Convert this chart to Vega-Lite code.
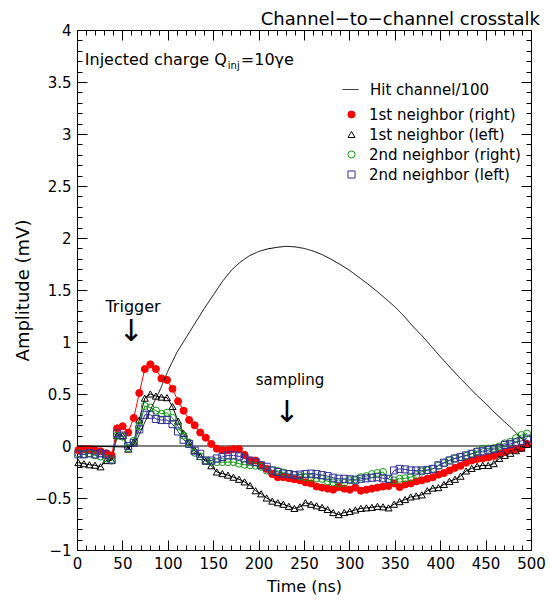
{
 "$schema": "https://vega.github.io/schema/vega-lite/v6.json",
 "width": 454, "height": 520,
 "autosize": {"type": "none"},
 "padding": {"left": 77, "top": 30, "right": 19, "bottom": 51},
 "background": "white",
 "config": {
  "font": "DejaVu Sans",
  "view": {"stroke": "black", "strokeWidth": 1},
  "axis": {"grid": false, "domain": false, "ticks": false, "gridColor": "black", "gridOpacity": 1, "gridWidth": 1, "labelColor": "black", "titleColor": "black", "labelFont": "DejaVu Sans", "titleFont": "DejaVu Sans", "labelFontSize": 15, "titleFontWeight": "normal", "labelOverlap": false, "labelBound": false, "labelFlush": false},
  "legend": {"labelFont": "DejaVu Sans", "labelFontSize": 15, "labelColor": "black", "padding": 0}
 },
 "title": {"text": "Channel−to−channel crosstalk", "anchor": "end", "frame": "group", "fontSize": 18, "fontWeight": "normal", "font": "DejaVu Sans", "color": "black", "offset": -6, "dx": 9},
 "datasets": {
  "nb": [
{"s":"1st neighbor (right)","t":1.5,"v":-0.04},{"s":"1st neighbor (right)","t":7.6,"v":-0.03},{"s":"1st neighbor (right)","t":13.7,"v":-0.03},{"s":"1st neighbor (right)","t":19.8,"v":-0.04},{"s":"1st neighbor (right)","t":25.9,"v":-0.05},{"s":"1st neighbor (right)","t":32,"v":-0.07},{"s":"1st neighbor (right)","t":38.1,"v":-0.09},{"s":"1st neighbor (right)","t":44.2,"v":0.17},{"s":"1st neighbor (right)","t":50.3,"v":0.19},{"s":"1st neighbor (right)","t":56.4,"v":0.13},
{"s":"1st neighbor (right)","t":62.5,"v":0.27},{"s":"1st neighbor (right)","t":68.6,"v":0.51},{"s":"1st neighbor (right)","t":74.7,"v":0.74},{"s":"1st neighbor (right)","t":80.8,"v":0.785},{"s":"1st neighbor (right)","t":86.9,"v":0.74},{"s":"1st neighbor (right)","t":93,"v":0.65},{"s":"1st neighbor (right)","t":99.1,"v":0.635},{"s":"1st neighbor (right)","t":105.2,"v":0.55},{"s":"1st neighbor (right)","t":111.3,"v":0.43},{"s":"1st neighbor (right)","t":117.4,"v":0.34},
{"s":"1st neighbor (right)","t":123.5,"v":0.25},{"s":"1st neighbor (right)","t":129.6,"v":0.2},{"s":"1st neighbor (right)","t":135.7,"v":0.13},{"s":"1st neighbor (right)","t":141.8,"v":0.08},{"s":"1st neighbor (right)","t":147.9,"v":0.02},{"s":"1st neighbor (right)","t":154,"v":-0.026},{"s":"1st neighbor (right)","t":160.1,"v":-0.04},{"s":"1st neighbor (right)","t":166.2,"v":-0.04},{"s":"1st neighbor (right)","t":172.3,"v":-0.03},{"s":"1st neighbor (right)","t":178.4,"v":-0.03},
{"s":"1st neighbor (right)","t":184.5,"v":-0.085},{"s":"1st neighbor (right)","t":190.6,"v":-0.14},{"s":"1st neighbor (right)","t":196.7,"v":-0.14},{"s":"1st neighbor (right)","t":202.8,"v":-0.185},{"s":"1st neighbor (right)","t":208.9,"v":-0.22},{"s":"1st neighbor (right)","t":215,"v":-0.27},{"s":"1st neighbor (right)","t":221.1,"v":-0.3},{"s":"1st neighbor (right)","t":227.2,"v":-0.3},{"s":"1st neighbor (right)","t":233.3,"v":-0.31},{"s":"1st neighbor (right)","t":239.4,"v":-0.32},
{"s":"1st neighbor (right)","t":245.5,"v":-0.33},{"s":"1st neighbor (right)","t":251.6,"v":-0.35},{"s":"1st neighbor (right)","t":257.7,"v":-0.36},{"s":"1st neighbor (right)","t":263.8,"v":-0.39},{"s":"1st neighbor (right)","t":269.9,"v":-0.4},{"s":"1st neighbor (right)","t":276,"v":-0.41},{"s":"1st neighbor (right)","t":282.1,"v":-0.42},{"s":"1st neighbor (right)","t":288.2,"v":-0.395},{"s":"1st neighbor (right)","t":294.3,"v":-0.41},{"s":"1st neighbor (right)","t":300.4,"v":-0.42},
{"s":"1st neighbor (right)","t":306.5,"v":-0.4},{"s":"1st neighbor (right)","t":312.6,"v":-0.43},{"s":"1st neighbor (right)","t":318.7,"v":-0.42},{"s":"1st neighbor (right)","t":324.8,"v":-0.41},{"s":"1st neighbor (right)","t":330.9,"v":-0.4},{"s":"1st neighbor (right)","t":337,"v":-0.39},{"s":"1st neighbor (right)","t":343.1,"v":-0.385},{"s":"1st neighbor (right)","t":349.2,"v":-0.36},{"s":"1st neighbor (right)","t":355.3,"v":-0.395},{"s":"1st neighbor (right)","t":361.4,"v":-0.37},
{"s":"1st neighbor (right)","t":367.5,"v":-0.36},{"s":"1st neighbor (right)","t":373.6,"v":-0.34},{"s":"1st neighbor (right)","t":379.7,"v":-0.33},{"s":"1st neighbor (right)","t":385.8,"v":-0.315},{"s":"1st neighbor (right)","t":391.9,"v":-0.3},{"s":"1st neighbor (right)","t":398,"v":-0.275},{"s":"1st neighbor (right)","t":404.1,"v":-0.26},{"s":"1st neighbor (right)","t":410.2,"v":-0.235},{"s":"1st neighbor (right)","t":416.3,"v":-0.21},{"s":"1st neighbor (right)","t":422.4,"v":-0.19},
{"s":"1st neighbor (right)","t":428.5,"v":-0.16},{"s":"1st neighbor (right)","t":434.6,"v":-0.14},{"s":"1st neighbor (right)","t":440.7,"v":-0.125},{"s":"1st neighbor (right)","t":446.8,"v":-0.12},{"s":"1st neighbor (right)","t":452.9,"v":-0.11},{"s":"1st neighbor (right)","t":459,"v":-0.095},{"s":"1st neighbor (right)","t":465.1,"v":-0.075},{"s":"1st neighbor (right)","t":471.2,"v":-0.055},{"s":"1st neighbor (right)","t":477.3,"v":-0.04},{"s":"1st neighbor (right)","t":483.4,"v":-0.03},
{"s":"1st neighbor (right)","t":489.5,"v":-0.02},{"s":"1st neighbor (right)","t":495.6,"v":0.02},
{"s":"1st neighbor (left)","t":1.5,"v":-0.16},{"s":"1st neighbor (left)","t":7.6,"v":-0.17},{"s":"1st neighbor (left)","t":13.7,"v":-0.18},{"s":"1st neighbor (left)","t":19.8,"v":-0.185},{"s":"1st neighbor (left)","t":25.9,"v":-0.2},{"s":"1st neighbor (left)","t":32,"v":-0.14},{"s":"1st neighbor (left)","t":38.1,"v":-0.14},{"s":"1st neighbor (left)","t":44.2,"v":0.1},{"s":"1st neighbor (left)","t":50.3,"v":0.1},{"s":"1st neighbor (left)","t":56.4,"v":-0.03},
{"s":"1st neighbor (left)","t":62.5,"v":0.04},{"s":"1st neighbor (left)","t":68.6,"v":0.25},{"s":"1st neighbor (left)","t":74.7,"v":0.46},{"s":"1st neighbor (left)","t":80.8,"v":0.5},{"s":"1st neighbor (left)","t":86.9,"v":0.48},{"s":"1st neighbor (left)","t":93,"v":0.47},{"s":"1st neighbor (left)","t":99.1,"v":0.465},{"s":"1st neighbor (left)","t":105.2,"v":0.38},{"s":"1st neighbor (left)","t":111.3,"v":0.24},{"s":"1st neighbor (left)","t":117.4,"v":0.12},
{"s":"1st neighbor (left)","t":123.5,"v":0.04},{"s":"1st neighbor (left)","t":129.6,"v":-0.04},{"s":"1st neighbor (left)","t":135.7,"v":-0.1},{"s":"1st neighbor (left)","t":141.8,"v":-0.145},{"s":"1st neighbor (left)","t":147.9,"v":-0.19},{"s":"1st neighbor (left)","t":154,"v":-0.25},{"s":"1st neighbor (left)","t":160.1,"v":-0.265},{"s":"1st neighbor (left)","t":166.2,"v":-0.28},{"s":"1st neighbor (left)","t":172.3,"v":-0.3},{"s":"1st neighbor (left)","t":178.4,"v":-0.32},
{"s":"1st neighbor (left)","t":184.5,"v":-0.345},{"s":"1st neighbor (left)","t":190.6,"v":-0.38},{"s":"1st neighbor (left)","t":196.7,"v":-0.43},{"s":"1st neighbor (left)","t":202.8,"v":-0.46},{"s":"1st neighbor (left)","t":208.9,"v":-0.5},{"s":"1st neighbor (left)","t":215,"v":-0.53},{"s":"1st neighbor (left)","t":221.1,"v":-0.545},{"s":"1st neighbor (left)","t":227.2,"v":-0.56},{"s":"1st neighbor (left)","t":233.3,"v":-0.58},{"s":"1st neighbor (left)","t":239.4,"v":-0.6},
{"s":"1st neighbor (left)","t":245.5,"v":-0.585},{"s":"1st neighbor (left)","t":251.6,"v":-0.545},{"s":"1st neighbor (left)","t":257.7,"v":-0.56},{"s":"1st neighbor (left)","t":263.8,"v":-0.575},{"s":"1st neighbor (left)","t":269.9,"v":-0.59},{"s":"1st neighbor (left)","t":276,"v":-0.61},{"s":"1st neighbor (left)","t":282.1,"v":-0.64},{"s":"1st neighbor (left)","t":288.2,"v":-0.66},{"s":"1st neighbor (left)","t":294.3,"v":-0.64},{"s":"1st neighbor (left)","t":300.4,"v":-0.63},
{"s":"1st neighbor (left)","t":306.5,"v":-0.615},{"s":"1st neighbor (left)","t":312.6,"v":-0.6},{"s":"1st neighbor (left)","t":318.7,"v":-0.595},{"s":"1st neighbor (left)","t":324.8,"v":-0.59},{"s":"1st neighbor (left)","t":330.9,"v":-0.58},{"s":"1st neighbor (left)","t":337,"v":-0.585},{"s":"1st neighbor (left)","t":343.1,"v":-0.595},{"s":"1st neighbor (left)","t":349.2,"v":-0.56},{"s":"1st neighbor (left)","t":355.3,"v":-0.535},{"s":"1st neighbor (left)","t":361.4,"v":-0.515},
{"s":"1st neighbor (left)","t":367.5,"v":-0.49},{"s":"1st neighbor (left)","t":373.6,"v":-0.48},{"s":"1st neighbor (left)","t":379.7,"v":-0.47},{"s":"1st neighbor (left)","t":385.8,"v":-0.43},{"s":"1st neighbor (left)","t":391.9,"v":-0.405},{"s":"1st neighbor (left)","t":398,"v":-0.4},{"s":"1st neighbor (left)","t":404.1,"v":-0.37},{"s":"1st neighbor (left)","t":410.2,"v":-0.34},{"s":"1st neighbor (left)","t":416.3,"v":-0.32},{"s":"1st neighbor (left)","t":422.4,"v":-0.29},
{"s":"1st neighbor (left)","t":428.5,"v":-0.24},{"s":"1st neighbor (left)","t":434.6,"v":-0.215},{"s":"1st neighbor (left)","t":440.7,"v":-0.195},{"s":"1st neighbor (left)","t":446.8,"v":-0.187},{"s":"1st neighbor (left)","t":452.9,"v":-0.187},{"s":"1st neighbor (left)","t":459,"v":-0.17},{"s":"1st neighbor (left)","t":465.1,"v":-0.12},{"s":"1st neighbor (left)","t":471.2,"v":-0.09},{"s":"1st neighbor (left)","t":477.3,"v":-0.07},{"s":"1st neighbor (left)","t":483.4,"v":-0.045},
{"s":"1st neighbor (left)","t":489.5,"v":-0.02},{"s":"1st neighbor (left)","t":495.6,"v":0.015},
{"s":"2nd neighbor (right)","t":1.5,"v":-0.07},{"s":"2nd neighbor (right)","t":7.6,"v":-0.08},{"s":"2nd neighbor (right)","t":13.7,"v":-0.07},{"s":"2nd neighbor (right)","t":19.8,"v":-0.09},{"s":"2nd neighbor (right)","t":25.9,"v":-0.1},{"s":"2nd neighbor (right)","t":32,"v":-0.12},{"s":"2nd neighbor (right)","t":38.1,"v":-0.14},{"s":"2nd neighbor (right)","t":44.2,"v":0.1},{"s":"2nd neighbor (right)","t":50.3,"v":0.09},{"s":"2nd neighbor (right)","t":56.4,"v":-0.02},
{"s":"2nd neighbor (right)","t":62.5,"v":0.05},{"s":"2nd neighbor (right)","t":68.6,"v":0.19},{"s":"2nd neighbor (right)","t":74.7,"v":0.385},{"s":"2nd neighbor (right)","t":80.8,"v":0.37},{"s":"2nd neighbor (right)","t":86.9,"v":0.34},{"s":"2nd neighbor (right)","t":93,"v":0.31},{"s":"2nd neighbor (right)","t":99.1,"v":0.32},{"s":"2nd neighbor (right)","t":105.2,"v":0.27},{"s":"2nd neighbor (right)","t":111.3,"v":0.19},{"s":"2nd neighbor (right)","t":117.4,"v":0.1},
{"s":"2nd neighbor (right)","t":123.5,"v":0.03},{"s":"2nd neighbor (right)","t":129.6,"v":-0.065},{"s":"2nd neighbor (right)","t":135.7,"v":-0.1},{"s":"2nd neighbor (right)","t":141.8,"v":-0.14},{"s":"2nd neighbor (right)","t":147.9,"v":-0.155},{"s":"2nd neighbor (right)","t":154,"v":-0.155},{"s":"2nd neighbor (right)","t":160.1,"v":-0.155},{"s":"2nd neighbor (right)","t":166.2,"v":-0.155},{"s":"2nd neighbor (right)","t":172.3,"v":-0.155},{"s":"2nd neighbor (right)","t":178.4,"v":-0.17},
{"s":"2nd neighbor (right)","t":184.5,"v":-0.18},{"s":"2nd neighbor (right)","t":190.6,"v":-0.185},{"s":"2nd neighbor (right)","t":196.7,"v":-0.19},{"s":"2nd neighbor (right)","t":202.8,"v":-0.2},{"s":"2nd neighbor (right)","t":208.9,"v":-0.235},{"s":"2nd neighbor (right)","t":215,"v":-0.235},{"s":"2nd neighbor (right)","t":221.1,"v":-0.24},{"s":"2nd neighbor (right)","t":227.2,"v":-0.255},{"s":"2nd neighbor (right)","t":233.3,"v":-0.27},{"s":"2nd neighbor (right)","t":239.4,"v":-0.28},
{"s":"2nd neighbor (right)","t":245.5,"v":-0.29},{"s":"2nd neighbor (right)","t":251.6,"v":-0.3},{"s":"2nd neighbor (right)","t":257.7,"v":-0.305},{"s":"2nd neighbor (right)","t":263.8,"v":-0.31},{"s":"2nd neighbor (right)","t":269.9,"v":-0.315},{"s":"2nd neighbor (right)","t":276,"v":-0.34},{"s":"2nd neighbor (right)","t":282.1,"v":-0.35},{"s":"2nd neighbor (right)","t":288.2,"v":-0.36},{"s":"2nd neighbor (right)","t":294.3,"v":-0.355},{"s":"2nd neighbor (right)","t":300.4,"v":-0.33},
{"s":"2nd neighbor (right)","t":306.5,"v":-0.32},{"s":"2nd neighbor (right)","t":312.6,"v":-0.3},{"s":"2nd neighbor (right)","t":318.7,"v":-0.29},{"s":"2nd neighbor (right)","t":324.8,"v":-0.27},{"s":"2nd neighbor (right)","t":330.9,"v":-0.26},{"s":"2nd neighbor (right)","t":337,"v":-0.25},{"s":"2nd neighbor (right)","t":343.1,"v":-0.32},{"s":"2nd neighbor (right)","t":349.2,"v":-0.33},{"s":"2nd neighbor (right)","t":355.3,"v":-0.315},{"s":"2nd neighbor (right)","t":361.4,"v":-0.31},
{"s":"2nd neighbor (right)","t":367.5,"v":-0.3},{"s":"2nd neighbor (right)","t":373.6,"v":-0.28},{"s":"2nd neighbor (right)","t":379.7,"v":-0.245},{"s":"2nd neighbor (right)","t":385.8,"v":-0.235},{"s":"2nd neighbor (right)","t":391.9,"v":-0.22},{"s":"2nd neighbor (right)","t":398,"v":-0.19},{"s":"2nd neighbor (right)","t":404.1,"v":-0.165},{"s":"2nd neighbor (right)","t":410.2,"v":-0.135},{"s":"2nd neighbor (right)","t":416.3,"v":-0.12},{"s":"2nd neighbor (right)","t":422.4,"v":-0.105},
{"s":"2nd neighbor (right)","t":428.5,"v":-0.095},{"s":"2nd neighbor (right)","t":434.6,"v":-0.075},{"s":"2nd neighbor (right)","t":440.7,"v":-0.05},{"s":"2nd neighbor (right)","t":446.8,"v":-0.026},{"s":"2nd neighbor (right)","t":452.9,"v":-0.025},{"s":"2nd neighbor (right)","t":459,"v":-0.02},{"s":"2nd neighbor (right)","t":465.1,"v":-0.005},{"s":"2nd neighbor (right)","t":471.2,"v":0.025},{"s":"2nd neighbor (right)","t":477.3,"v":0.04},{"s":"2nd neighbor (right)","t":483.4,"v":0.075},
{"s":"2nd neighbor (right)","t":489.5,"v":0.105},{"s":"2nd neighbor (right)","t":495.6,"v":0.12},
{"s":"2nd neighbor (left)","t":1.5,"v":-0.08},{"s":"2nd neighbor (left)","t":7.6,"v":-0.08},{"s":"2nd neighbor (left)","t":13.7,"v":-0.07},{"s":"2nd neighbor (left)","t":19.8,"v":-0.08},{"s":"2nd neighbor (left)","t":25.9,"v":-0.07},{"s":"2nd neighbor (left)","t":32,"v":-0.08},{"s":"2nd neighbor (left)","t":38.1,"v":-0.13},{"s":"2nd neighbor (left)","t":44.2,"v":0.12},{"s":"2nd neighbor (left)","t":50.3,"v":0.1},{"s":"2nd neighbor (left)","t":56.4,"v":0},
{"s":"2nd neighbor (left)","t":62.5,"v":0.03},{"s":"2nd neighbor (left)","t":68.6,"v":0.16},{"s":"2nd neighbor (left)","t":74.7,"v":0.3},{"s":"2nd neighbor (left)","t":80.8,"v":0.3},{"s":"2nd neighbor (left)","t":86.9,"v":0.26},{"s":"2nd neighbor (left)","t":93,"v":0.25},{"s":"2nd neighbor (left)","t":99.1,"v":0.25},{"s":"2nd neighbor (left)","t":105.2,"v":0.21},{"s":"2nd neighbor (left)","t":111.3,"v":0.14},{"s":"2nd neighbor (left)","t":117.4,"v":0.06},
{"s":"2nd neighbor (left)","t":123.5,"v":0.02},{"s":"2nd neighbor (left)","t":129.6,"v":-0.045},{"s":"2nd neighbor (left)","t":135.7,"v":-0.075},{"s":"2nd neighbor (left)","t":141.8,"v":-0.14},{"s":"2nd neighbor (left)","t":147.9,"v":-0.14},{"s":"2nd neighbor (left)","t":154,"v":-0.12},{"s":"2nd neighbor (left)","t":160.1,"v":-0.105},{"s":"2nd neighbor (left)","t":166.2,"v":-0.09},{"s":"2nd neighbor (left)","t":172.3,"v":-0.09},{"s":"2nd neighbor (left)","t":178.4,"v":-0.1},
{"s":"2nd neighbor (left)","t":184.5,"v":-0.12},{"s":"2nd neighbor (left)","t":190.6,"v":-0.14},{"s":"2nd neighbor (left)","t":196.7,"v":-0.155},{"s":"2nd neighbor (left)","t":202.8,"v":-0.185},{"s":"2nd neighbor (left)","t":208.9,"v":-0.2},{"s":"2nd neighbor (left)","t":215,"v":-0.235},{"s":"2nd neighbor (left)","t":221.1,"v":-0.25},{"s":"2nd neighbor (left)","t":227.2,"v":-0.265},{"s":"2nd neighbor (left)","t":233.3,"v":-0.27},{"s":"2nd neighbor (left)","t":239.4,"v":-0.28},
{"s":"2nd neighbor (left)","t":245.5,"v":-0.275},{"s":"2nd neighbor (left)","t":251.6,"v":-0.27},{"s":"2nd neighbor (left)","t":257.7,"v":-0.265},{"s":"2nd neighbor (left)","t":263.8,"v":-0.27},{"s":"2nd neighbor (left)","t":269.9,"v":-0.28},{"s":"2nd neighbor (left)","t":276,"v":-0.29},{"s":"2nd neighbor (left)","t":282.1,"v":-0.305},{"s":"2nd neighbor (left)","t":288.2,"v":-0.315},{"s":"2nd neighbor (left)","t":294.3,"v":-0.315},{"s":"2nd neighbor (left)","t":300.4,"v":-0.32},
{"s":"2nd neighbor (left)","t":306.5,"v":-0.33},{"s":"2nd neighbor (left)","t":312.6,"v":-0.315},{"s":"2nd neighbor (left)","t":318.7,"v":-0.31},{"s":"2nd neighbor (left)","t":324.8,"v":-0.305},{"s":"2nd neighbor (left)","t":330.9,"v":-0.3},{"s":"2nd neighbor (left)","t":337,"v":-0.31},{"s":"2nd neighbor (left)","t":343.1,"v":-0.315},{"s":"2nd neighbor (left)","t":349.2,"v":-0.235},{"s":"2nd neighbor (left)","t":355.3,"v":-0.22},{"s":"2nd neighbor (left)","t":361.4,"v":-0.225},
{"s":"2nd neighbor (left)","t":367.5,"v":-0.235},{"s":"2nd neighbor (left)","t":373.6,"v":-0.235},{"s":"2nd neighbor (left)","t":379.7,"v":-0.235},{"s":"2nd neighbor (left)","t":385.8,"v":-0.23},{"s":"2nd neighbor (left)","t":391.9,"v":-0.22},{"s":"2nd neighbor (left)","t":398,"v":-0.185},{"s":"2nd neighbor (left)","t":404.1,"v":-0.16},{"s":"2nd neighbor (left)","t":410.2,"v":-0.14},{"s":"2nd neighbor (left)","t":416.3,"v":-0.12},{"s":"2nd neighbor (left)","t":422.4,"v":-0.105},
{"s":"2nd neighbor (left)","t":428.5,"v":-0.09},{"s":"2nd neighbor (left)","t":434.6,"v":-0.075},{"s":"2nd neighbor (left)","t":440.7,"v":-0.06},{"s":"2nd neighbor (left)","t":446.8,"v":-0.05},{"s":"2nd neighbor (left)","t":452.9,"v":-0.04},{"s":"2nd neighbor (left)","t":459,"v":-0.03},{"s":"2nd neighbor (left)","t":465.1,"v":-0.02},{"s":"2nd neighbor (left)","t":471.2,"v":0.01},{"s":"2nd neighbor (left)","t":477.3,"v":0.02},{"s":"2nd neighbor (left)","t":483.4,"v":0.035},
{"s":"2nd neighbor (left)","t":489.5,"v":0.05},{"s":"2nd neighbor (left)","t":495.6,"v":0.07}
  ],
  "hit": [
{"t":0,"v":0},{"t":58,"v":-0.01},{"t":62,"v":0.01},{"t":67,"v":0.08},{"t":73,"v":0.195},{"t":80,"v":0.33},{"t":86,"v":0.44},{"t":92,"v":0.55},{"t":100,"v":0.72},{"t":110,"v":0.9},{"t":120,"v":1.04},{"t":130,"v":1.18},{"t":140,"v":1.32},{"t":150,"v":1.45},{"t":160,"v":1.58},{"t":170,"v":1.69},{"t":180,"v":1.77},{"t":190,"v":1.83},{"t":200,"v":1.87},{"t":210,"v":1.895},{"t":220,"v":1.91},{"t":230,"v":1.92},{"t":240,"v":1.915},{"t":250,"v":1.9},{"t":260,"v":1.875},{"t":270,"v":1.84},{"t":280,"v":1.795},{"t":290,"v":1.745},{"t":300,"v":1.69},{"t":310,"v":1.625},{"t":320,"v":1.56},{"t":330,"v":1.49},{"t":340,"v":1.415},{"t":350,"v":1.34},{"t":360,"v":1.25},{"t":370,"v":1.15},{"t":380,"v":1.06},{"t":390,"v":0.96},{"t":400,"v":0.86},{"t":410,"v":0.765},{"t":420,"v":0.67},{"t":430,"v":0.58},{"t":440,"v":0.49},{"t":450,"v":0.41},{"t":460,"v":0.32},{"t":470,"v":0.24},{"t":480,"v":0.16},{"t":490,"v":0.07},{"t":500,"v":0}
  ]
 },
 "layer": [
  {
   "layer": [
    {
     "data": {"values": [{}]},
     "mark": {"type": "rule", "color": "black", "strokeWidth": 1},
     "encoding": {"y": {"datum": 0, "type": "quantitative"}}
    },
    {
     "data": {"name": "nb"},
     "transform": [{"filter": "datum.s === '1st neighbor (right)'"}],
     "mark": {"type": "line", "strokeWidth": 1, "color": "#ff0000"},
     "encoding": {
      "x": {"field": "t", "type": "quantitative", "title": "Time (ns)",
            "scale": {"domain": [0, 500], "nice": false, "zero": false},
            "axis": {"orient": "bottom", "values": [0,50,100,150,200,250,300,350,400,450,500],
                     "grid": true, "gridDash": [10, 500, 10, 2000],
                     "labelOverlap": false, "labelPadding": 6, "titleFontSize": 16, "titlePadding": 7}},
      "y": {"field": "v", "type": "quantitative", "title": "Amplitude (mV)",
            "scale": {"domain": [-1, 4], "nice": false, "zero": false},
            "axis": {"orient": "left", "values": [-1,-0.5,0,0.5,1,1.5,2,2.5,3,3.5,4],
                     "format": ".2~f", "grid": true, "gridDash": [10, 434, 10, 2000],
                     "labelOverlap": false, "labelPadding": 6, "titleFontSize": 18, "titlePadding": 2}}
     }
    },
    {
     "data": {"name": "nb"},
     "transform": [{"filter": "datum.s === '1st neighbor (left)'"}],
     "mark": {"type": "line", "strokeWidth": 1, "color": "#000000"},
     "encoding": {"x": {"field": "t", "type": "quantitative", "title": "Time (ns)"}, "y": {"field": "v", "type": "quantitative", "title": "Amplitude (mV)"}}
    },
    {
     "data": {"name": "nb"},
     "transform": [{"filter": "datum.s === '2nd neighbor (right)'"}],
     "mark": {"type": "line", "strokeWidth": 1, "color": "#119911"},
     "encoding": {"x": {"field": "t", "type": "quantitative", "title": "Time (ns)"}, "y": {"field": "v", "type": "quantitative", "title": "Amplitude (mV)"}}
    },
    {
     "data": {"name": "nb"},
     "transform": [{"filter": "datum.s === '2nd neighbor (left)'"}],
     "mark": {"type": "line", "strokeWidth": 1, "color": "#333399"},
     "encoding": {"x": {"field": "t", "type": "quantitative", "title": "Time (ns)"}, "y": {"field": "v", "type": "quantitative", "title": "Amplitude (mV)"}}
    },
    {
     "data": {"name": "nb"},
     "mark": {"type": "point", "opacity": 1, "strokeWidth": 1, "size": 50},
     "encoding": {
      "x": {"field": "t", "type": "quantitative", "title": "Time (ns)"},
      "y": {"field": "v", "type": "quantitative", "title": "Amplitude (mV)"},
      "stroke": {"field": "s", "type": "nominal",
                 "scale": {"domain": ["1st neighbor (right)", "1st neighbor (left)", "2nd neighbor (right)", "2nd neighbor (left)"], "range": ["#ff0000", "#000000", "#119911", "#333399"]},
                 "legend": {"orient": "none", "legendX": 267, "legendY": 77, "title": null, "symbolSize": 50, "symbolStrokeWidth": 1, "labelOffset": 10, "rowPadding": 4, "labelFontSize": 15, "labelLimit": 300}},
      "fill": {"field": "s", "type": "nominal",
               "scale": {"domain": ["1st neighbor (right)", "1st neighbor (left)", "2nd neighbor (right)", "2nd neighbor (left)"], "range": ["#ff0000", "transparent", "transparent", "transparent"]}},
      "shape": {"field": "s", "type": "nominal",
                "scale": {"domain": ["1st neighbor (right)", "1st neighbor (left)", "2nd neighbor (right)", "2nd neighbor (left)"], "range": ["circle", "triangle-up", "circle", "square"]}}
     }
    },
    {
     "data": {"values": [{}]},
     "mark": {"type": "text", "fontSize": 16, "align": "center", "baseline": "middle", "color": "black"},
     "encoding": {"x": {"datum": 61.7, "type": "quantitative"}, "y": {"datum": 1.34, "type": "quantitative"}, "text": {"value": "Trigger"}}
    },
    {
     "data": {"values": [{}]},
     "mark": {"type": "text", "fontSize": 30, "align": "center", "baseline": "middle", "color": "black"},
     "encoding": {"x": {"datum": 59.5, "type": "quantitative"}, "y": {"datum": 1.1, "type": "quantitative"}, "text": {"value": "↓"}}
    },
    {
     "data": {"values": [{}]},
     "mark": {"type": "text", "fontSize": 15, "align": "center", "baseline": "middle", "color": "black"},
     "encoding": {"x": {"datum": 234.6, "type": "quantitative"}, "y": {"datum": 0.63, "type": "quantitative"}, "text": {"value": "sampling"}}
    },
    {
     "data": {"values": [{}]},
     "mark": {"type": "text", "fontSize": 30, "align": "center", "baseline": "middle", "color": "black"},
     "encoding": {"x": {"datum": 231, "type": "quantitative"}, "y": {"datum": 0.32, "type": "quantitative"}, "text": {"value": "↓"}}
    },
    {
     "data": {"values": [{}]},
     "mark": {"type": "text", "fontSize": 16, "align": "right", "baseline": "alphabetic", "color": "black"},
     "encoding": {"x": {"datum": 165, "type": "quantitative"}, "y": {"datum": 3.663, "type": "quantitative"}, "text": {"value": "Injected charge Q"}}
    },
    {
     "data": {"values": [{}]},
     "mark": {"type": "text", "fontSize": 10, "align": "left", "baseline": "alphabetic", "color": "black"},
     "encoding": {"x": {"datum": 166.1, "type": "quantitative"}, "y": {"datum": 3.625, "type": "quantitative"}, "text": {"value": "inj"}}
    },
    {
     "data": {"values": [{}]},
     "mark": {"type": "text", "fontSize": 16, "align": "left", "baseline": "alphabetic", "color": "black"},
     "encoding": {"x": {"datum": 180.4, "type": "quantitative"}, "y": {"datum": 3.663, "type": "quantitative"}, "text": {"value": "=10γe"}}
    }
   ]
  },
  {
   "data": {"name": "hit"},
   "mark": {"type": "line", "strokeWidth": 1, "color": "black"},
   "encoding": {
    "x": {"field": "t", "type": "quantitative",
          "axis": {"orient": "top", "title": null, "labels": false, "grid": true, "gridDash": [5, 510, 5, 2000],
                   "values": [0,10,20,30,40,50,60,70,80,90,100,110,120,130,140,150,160,170,180,190,200,210,220,230,240,250,260,270,280,290,300,310,320,330,340,350,360,370,380,390,400,410,420,430,440,450,460,470,480,490,500]}},
    "y": {"field": "v", "type": "quantitative",
          "axis": {"orient": "right", "title": null, "labels": false, "grid": true, "gridDash": [5, 444, 5, 2000],
                   "values": [-1,-0.9,-0.8,-0.7,-0.6,-0.5,-0.4,-0.3,-0.2,-0.1,0,0.1,0.2,0.3,0.4,0.5,0.6,0.7,0.8,0.9,1,1.1,1.2,1.3,1.4,1.5,1.6,1.7,1.8,1.9,2,2.1,2.2,2.3,2.4,2.5,2.6,2.7,2.8,2.9,3,3.1,3.2,3.3,3.4,3.5,3.6,3.7,3.8,3.9,4]}},
    "strokeDash": {"datum": "Hit channel/100", "type": "nominal", "scale": {"range": [[1, 0]]},
                   "legend": {"orient": "none", "legendX": 265, "legendY": 51, "title": null, "symbolType": "stroke", "symbolSize": 256, "symbolStrokeColor": "black", "symbolStrokeWidth": 1, "labelOffset": 11, "labelFontSize": 15, "labelLimit": 300}}
   }
  }
 ],
 "resolve": {"axis": {"x": "independent", "y": "independent"}}
}
